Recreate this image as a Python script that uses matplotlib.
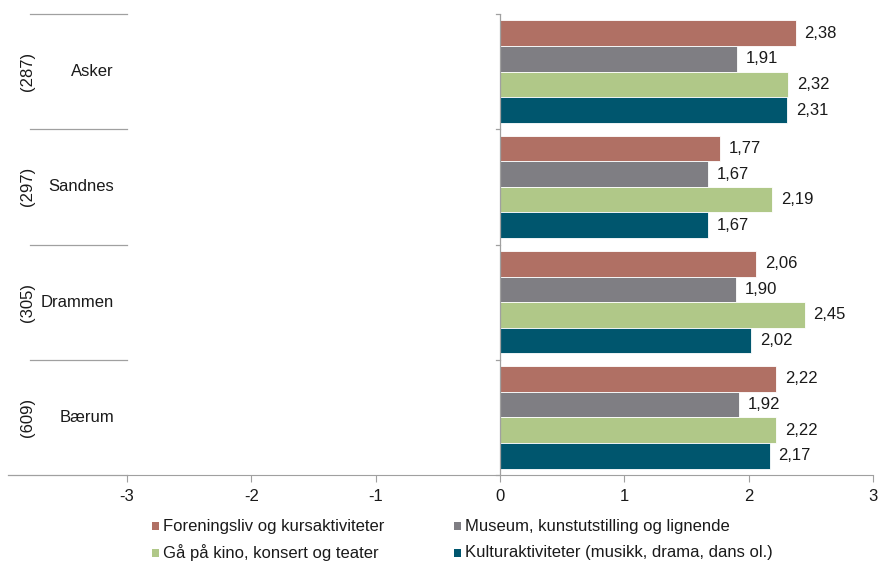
import matplotlib.pyplot as plt
from matplotlib.patches import Rectangle
from matplotlib.lines import Line2D
import numpy as np

plt.rcParams['font.family'] = ['Liberation Sans', 'DejaVu Sans']

kommuner = ["Asker", "Sandnes", "Drammen", "Bærum"]
antall = ["(287)", "(297)", "(305)", "(609)"]
serier = [
    "Foreningsliv og kursaktiviteter",
    "Museum, kunstutstilling og lignende",
    "Gå på kino, konsert og teater",
    "Kulturaktiviteter (musikk, drama, dans ol.)",
]
forening = [2.38, 1.77, 2.06, 2.22]
museum = [1.91, 1.67, 1.90, 1.92]
kino = [2.32, 2.19, 2.45, 2.22]
kultur = [2.31, 1.67, 2.02, 2.17]
farger = ["#B07064", "#7F7E83", "#B0C888", "#00566E"]

W, H = 879, 563
fs = 12
fig = plt.figure(figsize=(W / 100, H / 100), dpi=100)
ax = fig.add_axes([127 / W, 1 - 475 / H, (873 - 127) / W, (475 - 14) / H])

n = len(kommuner)
y = np.arange(n)
bh = 0.222
for i, (vals, col) in enumerate(zip([forening, museum, kino, kultur], farger)):
    pos = y - 1.5 * bh + i * bh
    ax.barh(pos, vals, height=bh, color=col, edgecolor="white", linewidth=0.6)
    for p, v in zip(pos, vals):
        ax.text(v + 0.07, p, f"{v:.2f}".replace(".", ","), va="center", ha="left",
                fontsize=fs, color="#1a1a1a")

ax.set_xlim(-3, 3)
ax.set_ylim(n - 0.5, -0.5)
ax.set_xticks(np.arange(-3, 4))
ax.set_xticklabels([str(t) for t in range(-3, 4)], fontsize=fs, color="#1a1a1a")
ax.tick_params(axis="x", direction="out", length=5, color="#a0a0a0", pad=5)
ax.set_yticks([])
for s in ["top", "right", "left"]:
    ax.spines[s].set_visible(False)
ax.spines["bottom"].set_color("#a0a0a0")
ax.axvline(0, color="#a0a0a0", lw=0.9)

# kategorigrenser ved null-aksen
for b in np.arange(-0.5, n, 1.0):
    ax.plot([-0.03, 0], [b, b], color="#a0a0a0", lw=0.9, clip_on=False)

# venstre kategoriomraade
fig.add_artist(Line2D([8 / W, 127 / W], [1 - 475 / H] * 2, color="#a0a0a0", lw=0.9))
for k in range(n):
    top = 14 + k * 115.25
    fig.add_artist(Line2D([30 / W, 127 / W], [1 - top / H] * 2, color="#a0a0a0", lw=0.9))
    yc = 1 - (top + 57.6) / H
    fig.text(114 / W, yc, kommuner[k], ha="right", va="center", fontsize=fs, color="#1a1a1a")
    fig.text(28 / W, yc, antall[k], ha="center", va="center", rotation=90,
             fontsize=fs, color="#1a1a1a")

# legend, radvis i to kolonner
kol_x = [152, 454]
rad_y = [526, 553]
for i, (navn, col) in enumerate(zip(serier, farger)):
    x0 = kol_x[i % 2]
    y0 = rad_y[i // 2]
    fig.add_artist(Rectangle((x0 / W, 1 - (y0 + 4) / H), 7 / W, 8 / H,
                             facecolor=col, edgecolor="none"))
    fig.text((x0 + 11) / W, 1 - y0 / H, navn, ha="left", va="center",
             fontsize=fs, color="#1a1a1a")

fig.savefig("out.png", dpi=100)
